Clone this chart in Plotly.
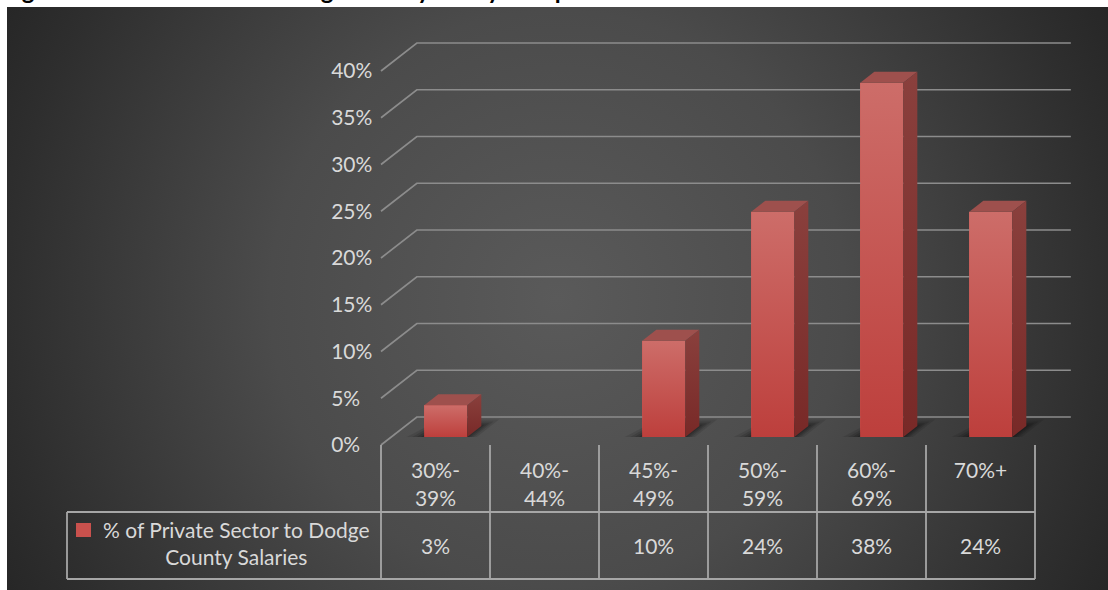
import base64
import plotly.graph_objects as go

# ---------------- data ----------------
title_text = "Figure 7: Public Sector to Dodge County Salary Comparison"
series_name = "% of Private Sector to Dodge County Salaries"
categories = ["30%-<br>39%", "40%-<br>44%", "45%-<br>49%", "50%-<br>59%", "60%-<br>69%", "70%+"]
values = [3.4, None, 10.3, 24.1, 37.9, 24.1]
value_labels = ["3%", "", "10%", "24%", "38%", "24%"]
y_tick_values = [0, 5, 10, 15, 20, 25, 30, 35, 40]
y_tick_labels = ["0%", "5%", "10%", "15%", "20%", "25%", "30%", "35%", "40%"]

# ---------------- geometry (pixel scale of the chart) ----------------
W, H = 1108, 590
PXX = 109.0      # px per category
PXY = 9.35       # px per 1 %
X0PX = 381.0     # left edge of first category (front plane)
Y0PX = 445.0     # 0 % on the front plane
SLANT = 1.28     # horizontal px per vertical px of depth

def px_to_x(px):
    return -0.5 + (px - X0PX) / PXX

def px_to_y(py):
    return (Y0PX - py) / PXY

def depth(d):
    return d * SLANT / PXX, d / PXY

x_range = [px_to_x(0), px_to_x(W)]
y_range = [px_to_y(H), px_to_y(0)]

FLOOR_D = 28     # depth of the floor (px)
BAR_D0 = 8       # bar front depth
BAR_D1 = 19      # bar back depth
BAR_W = 43 / PXX

TXT = "#d9d9d9"
FONT = "Lato, 'Open Sans', sans-serif"

fig = go.Figure()

# ---------------- back wall grid lines ----------------
bdx, bdy = depth(FLOOR_D)
gx, gy = [], []
n = len(categories)
for v in y_tick_values:
    gx += [-0.5, -0.5 + bdx, n - 0.5 + bdx, None]
    gy += [v, v + bdy, v + bdy, None]
fig.add_trace(go.Scatter(x=gx, y=gy, mode="lines", line=dict(color="#8c8c8c", width=1.7),
                         hoverinfo="skip", showlegend=False))

fdx, fdy = depth(BAR_D0)
ddx, ddy = depth(BAR_D1 - BAR_D0)

# ---------------- bars (front faces through bar trace) ----------------
bx = [i + fdx for i, v in enumerate(values) if v is not None]
by = [v for v in values if v is not None]
fig.add_trace(go.Bar(x=bx, y=by, base=fdy, width=BAR_W, marker=dict(color="#c5524e", line=dict(width=0)),
                     name=series_name, showlegend=False, hoverinfo="skip"))

# shadows
for i, v in enumerate(values):
    if v is None:
        continue
    xl = i + fdx - BAR_W / 2
    xr = i + fdx + BAR_W / 2
    for e, a in [(16, 0.10), (11, 0.12), (7, 0.14), (3, 0.16)]:
        ex = e / PXX
        sdx, sdy = depth(BAR_D1 - BAR_D0 + e * 0.4)
        fig.add_trace(go.Scatter(
            x=[xl - ex * 1.1, xr + ex * 0.6, xr + sdx + ex * 0.6, xl + sdx - ex * 0.4, xl - ex * 1.1],
            y=[fdy, fdy, fdy + sdy, fdy + sdy, fdy],
            fill="toself", mode="lines", line=dict(width=0, color="rgba(0,0,0,0)"),
            fillcolor=f"rgba(0,0,0,{a})", hoverinfo="skip", showlegend=False))

# 3D faces
for i, v in enumerate(values):
    if v is None:
        continue
    xl = i + fdx - BAR_W / 2
    xr = i + fdx + BAR_W / 2
    base = fdy
    top = fdy + v
    # front face with gradient
    fig.add_trace(go.Scatter(
        x=[xl, xr, xr, xl, xl], y=[base, base, top, top, base],
        fill="toself", mode="lines", line=dict(width=0, color="rgba(0,0,0,0)"),
        fillgradient=dict(type="vertical", colorscale=[[0, "#bd3f3c"], [1, "#cd6d69"]], start=base, stop=top),
        hoverinfo="skip", showlegend=False))
    # top face
    fig.add_trace(go.Scatter(
        x=[xl, xr, xr + ddx, xl + ddx, xl], y=[top, top, top + ddy, top + ddy, top],
        fill="toself", mode="lines", line=dict(width=0, color="rgba(0,0,0,0)"),
        fillcolor="#9e504d", hoverinfo="skip", showlegend=False))
    # side face
    fig.add_trace(go.Scatter(
        x=[xr, xr + ddx, xr + ddx, xr, xr], y=[base, base + ddy, top + ddy, top, base],
        fill="toself", mode="lines", line=dict(width=0, color="rgba(0,0,0,0)"),
        fillgradient=dict(type="vertical", colorscale=[[0, "#782927"], [1, "#8a403d"]], start=base, stop=top + ddy),
        hoverinfo="skip", showlegend=False))

# ---------------- data table ----------------
row1_y = px_to_y(512)
row2_y = px_to_y(579)
leg_x = px_to_x(67)
LC = "#a6a6a6"
LW = 1.8
shapes = []
for k in range(n + 1):
    xk = k - 0.5
    shapes.append(dict(type="line", xref="x", yref="y", x0=xk, x1=xk, y0=0, y1=row2_y,
                       line=dict(color=LC, width=LW)))
for yy in (row1_y, row2_y):
    shapes.append(dict(type="line", xref="x", yref="y", x0=leg_x, x1=n - 0.5, y0=yy, y1=yy,
                       line=dict(color=LC, width=LW)))
shapes.append(dict(type="line", xref="x", yref="y", x0=leg_x, x1=leg_x, y0=row1_y, y1=row2_y,
                   line=dict(color=LC, width=LW)))
# legend key
shapes.append(dict(type="rect", xref="x", yref="y", x0=px_to_x(76), x1=px_to_x(91),
                   y0=px_to_y(537), y1=px_to_y(523), fillcolor="#c9514d", line=dict(width=0)))

row_mid = (row1_y + row2_y) / 2
annotations = []
for i, lab in enumerate(value_labels):
    if lab:
        annotations.append(dict(x=i, y=row_mid, xref="x", yref="y", text=lab, showarrow=False,
                                font=dict(family=FONT, size=21, color=TXT)))
name_words = series_name.split(" ")
annotations.append(dict(x=px_to_x(236), y=row_mid, xref="x", yref="y", yshift=3,
                        text=" ".join(name_words[:6]) + "<br>" + " ".join(name_words[6:]),
                        showarrow=False, align="center", font=dict(family=FONT, size=21, color=TXT)))
annotations.append(dict(x=0, y=1, xref="paper", yref="paper", xanchor="left", yanchor="bottom",
                        yshift=-6, text="<b>" + title_text + "</b>", showarrow=False,
                        font=dict(family=FONT, size=24, color="#000000")))

# ---------------- background gradient ----------------
bw_, bh_ = W - 7, H - 7
svg = f'''<svg xmlns="http://www.w3.org/2000/svg" width="{bw_}" height="{bh_}">
<defs><radialGradient id="g" gradientUnits="userSpaceOnUse" cx="{bw_/2}" cy="{bh_/2}" r="640">
<stop offset="0" stop-color="#5a5a5a"/><stop offset="0.45" stop-color="#4b4b4b"/>
<stop offset="0.86" stop-color="#2e2e2e"/><stop offset="1" stop-color="#252525"/>
</radialGradient></defs><rect width="{bw_}" height="{bh_}" fill="url(#g)"/></svg>'''
src = "data:image/svg+xml;base64," + base64.b64encode(svg.encode()).decode()

fig.update_layout(
    width=W, height=H, margin=dict(l=0, r=0, t=0, b=0),
    paper_bgcolor="white", plot_bgcolor="rgba(0,0,0,0)",
    showlegend=False, bargap=0,
    images=[dict(source=src, xref="paper", yref="paper", x=7 / W, y=1 - 7 / H,
                 sizex=bw_ / W, sizey=bh_ / H, sizing="stretch", xanchor="left", yanchor="top",
                 layer="below")],
    xaxis=dict(range=x_range, domain=[0, 1], type="linear", anchor="free", position=(H - Y0PX) / H,
               tickvals=list(range(n)), ticktext=categories, ticks="outside", ticklen=7,
               tickcolor="rgba(0,0,0,0)", showgrid=False, zeroline=False, showline=False,
               automargin=False, tickfont=dict(family=FONT, size=21, color=TXT)),
    yaxis=dict(range=y_range, domain=[0, 1], anchor="free", position=318 / W, side="right",
               tickvals=y_tick_values, ticktext=y_tick_labels, ticks="outside", ticklen=8,
               tickcolor="rgba(0,0,0,0)", showgrid=False, zeroline=False, showline=False,
               automargin=False, tickfont=dict(family=FONT, size=21, color=TXT)),
    shapes=shapes, annotations=annotations,
)

fig.write_html("out.html", config={"displayModeBar": False},
               post_script="document.body.style.margin='0';document.body.style.overflow='hidden';")
